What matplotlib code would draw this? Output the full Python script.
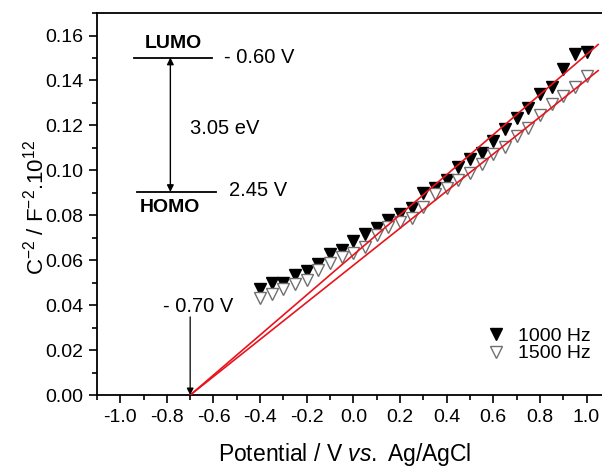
"""Mott-Schottky plot (C^-2 vs potential) at two frequencies with band-edge sketch."""

import matplotlib
matplotlib.use("Agg")
import matplotlib.pyplot as plt
from matplotlib.ticker import MultipleLocator

plt.rcParams["font.family"] = ["Liberation Sans", "DejaVu Sans"]
plt.rcParams["mathtext.fontset"] = "custom"
plt.rcParams["mathtext.rm"] = "Liberation Sans"
plt.rcParams["mathtext.it"] = "Liberation Sans:italic"
plt.rcParams["mathtext.default"] = "regular"
plt.rcParams["axes.unicode_minus"] = False

potential = [-0.40, -0.35, -0.30, -0.25, -0.20, -0.15, -0.10, -0.05, 0.00, 0.05,
             0.10, 0.15, 0.20, 0.25, 0.30, 0.35, 0.40, 0.45, 0.50, 0.55,
             0.60, 0.65, 0.70, 0.75, 0.80, 0.85, 0.90, 0.95, 1.00]
c2_1000hz = [0.0474, 0.0499, 0.0499, 0.0533, 0.0553, 0.0585, 0.0630, 0.0647, 0.0686, 0.0716,
             0.0742, 0.0781, 0.0804, 0.0834, 0.0899, 0.0923, 0.0959, 0.1015, 0.1052, 0.1077,
             0.1130, 0.1183, 0.1232, 0.1277, 0.1341, 0.1373, 0.1452, 0.1516, 0.1526]
c2_1500hz = [0.0434, 0.0449, 0.0474, 0.0496, 0.0514, 0.0556, 0.0588, 0.0615, 0.0633, 0.0659,
             0.0711, 0.0748, 0.0770, 0.0790, 0.0837, 0.0896, 0.0923, 0.0956, 0.0988, 0.1030,
             0.1074, 0.1104, 0.1153, 0.1188, 0.1248, 0.1296, 0.1329, 0.1370, 0.1422]

# linear fits, extrapolated to the flat-band potential
fit_x = [-0.70, 1.05]
fit_1000hz = [0.0, 0.156]
fit_1500hz = [0.0, 0.1444]

flat_band = -0.70
lumo, homo = 0.60, 2.45
band_gap = 3.05


fig = plt.figure(figsize=(6.02, 4.67), dpi=100)
ax = fig.add_axes([0.161, 0.154, 0.852, 0.818])

red = "#e8141c"
ax.plot(fit_x, fit_1000hz, color=red, linewidth=1.2, zorder=3)
ax.plot(fit_x, fit_1500hz, color=red, linewidth=1.2, zorder=3)

ax.plot(potential, c2_1000hz, linestyle="none", marker="v", markersize=8.5,
        markerfacecolor="black", markeredgecolor="black", label="1000 Hz", zorder=2)
ax.plot(potential, c2_1500hz, linestyle="none", marker="v", markersize=8.5,
        markerfacecolor="white", markeredgecolor="#707070", markeredgewidth=1.0,
        label="1500 Hz", zorder=2)

# energy level sketch in the upper-left corner
lumo_y, homo_y = 0.1502, 0.0904
ax.plot([-0.94, -0.605], [lumo_y, lumo_y], color="black", linewidth=1.3)
ax.plot([-0.93, -0.59], [homo_y, homo_y], color="black", linewidth=1.3)
ax.annotate("", xy=(-0.785, lumo_y), xytext=(-0.785, homo_y),
            arrowprops=dict(arrowstyle="<|-|>", color="black", lw=1.0,
                            mutation_scale=10, shrinkA=0, shrinkB=0))
ax.text(-0.77, 0.1565, "LUMO", fontsize=14, fontweight="bold", ha="center", va="center")
ax.text(-0.785, 0.0835, "HOMO", fontsize=14, fontweight="bold", ha="center", va="center")
ax.text(-0.555, lumo_y, f"- {lumo:.2f} V", fontsize=14.5, ha="left", va="center")
ax.text(-0.535, homo_y + 0.0008, f"{homo:.2f} V", fontsize=14.5, ha="left", va="center")
ax.text(-0.70, 0.1185, f"{band_gap:.2f} eV", fontsize=14.5, ha="left", va="center")

# flat-band potential marker
ax.annotate("", xy=(flat_band, 0.0), xytext=(flat_band, 0.0348),
            arrowprops=dict(arrowstyle="-|>", color="black", lw=0.9,
                            mutation_scale=10, shrinkA=0, shrinkB=0))
ax.text(-0.818, 0.0395, f"- {abs(flat_band):.2f} V", fontsize=14.5, ha="left", va="center")

ax.set_xlim(-1.1, 1.1)
ax.set_ylim(0.0, 0.17)
ax.xaxis.set_major_locator(MultipleLocator(0.2))
ax.xaxis.set_minor_locator(MultipleLocator(0.1))
ax.yaxis.set_major_locator(MultipleLocator(0.02))
ax.yaxis.set_minor_locator(MultipleLocator(0.01))
ax.xaxis.set_major_formatter(plt.FuncFormatter(lambda v, p: f"{v:.1f}".replace("-0.0", "0.0")))
ax.yaxis.set_major_formatter(plt.FuncFormatter(lambda v, p: f"{v:.2f}"))
ax.tick_params(which="major", direction="out", length=6, width=1.2, labelsize=14, pad=4)
ax.tick_params(which="minor", direction="out", length=3.5, width=1.2)
ax.tick_params(top=False, right=False)
for spine in ax.spines.values():
    spine.set_linewidth(1.3)

ax.set_xlabel(r"Potential / V $\mathit{vs.}$ Ag/AgCl", fontsize=16.5, va="baseline")
ax.xaxis.set_label_coords(0.483, -0.172)
ax.set_ylabel(r"C$^{-2}$ / F$^{-2}$.10$^{12}$", fontsize=16, va="center")
ax.yaxis.set_label_coords(-0.119, 0.492)

ax.legend(loc="upper right", bbox_to_anchor=(0.977, 0.198), frameon=False, fontsize=14,
          handletextpad=0.5, labelspacing=0.0, handlelength=1.2, borderaxespad=0.0)

fig.savefig("out.png", dpi=100)
